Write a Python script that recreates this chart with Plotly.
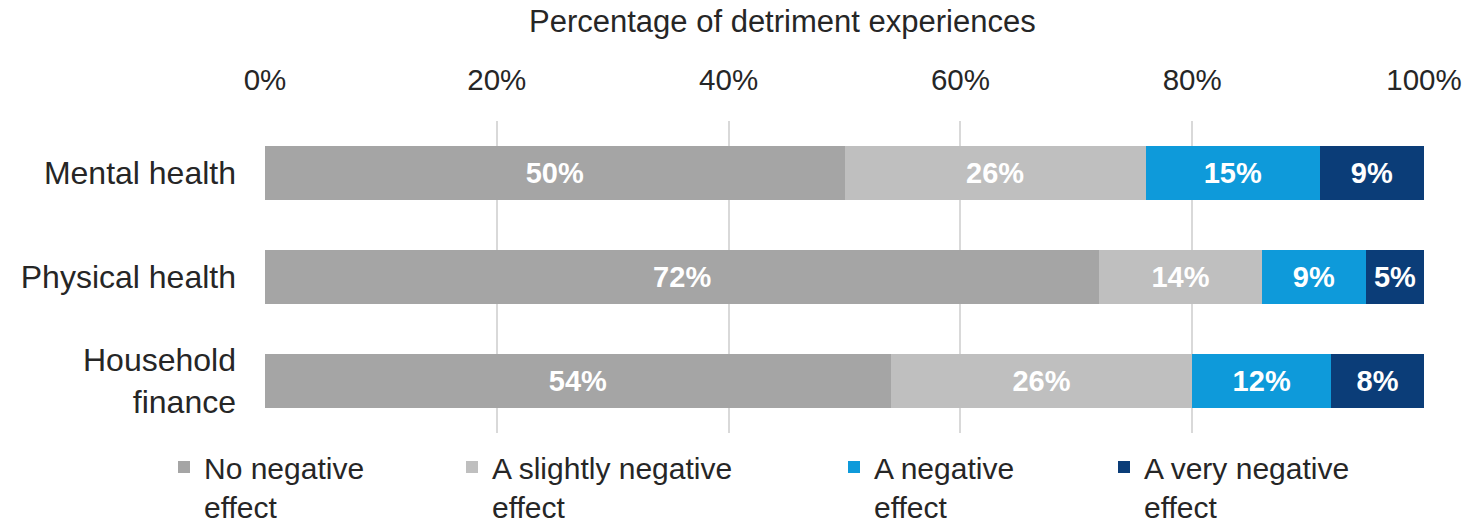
import plotly.graph_objects as go

categories = ["Mental health", "Physical health", "Household<br>finance"]
series_names = ["No negative<br>effect", "A slightly negative<br>effect", "A negative<br>effect", "A very negative<br>effect"]
no_negative = [50, 72, 54]
slightly_negative = [26, 14, 26]
negative = [15, 9, 12]
very_negative = [9, 5, 8]
colors = ["#A5A5A5", "#BFBFBF", "#0E9ADA", "#0B3D78"]
x_ticks = [0, 20, 40, 60, 80, 100]

W, H = 1475, 524
L, R, T, B = 265, 51, 121, 91
pw, ph = W - L - R, H - T - B

def px_x(p):
    return (p - L) / pw

def px_y(p):
    return (H - B - p) / ph

FONT = "Liberation Sans, Arial, sans-serif"
values = [no_negative, slightly_negative, negative, very_negative]
legend_left_px = [164, 452, 834, 1104]
legend_ids = ["legend", "legend2", "legend3", "legend4"]

fig = go.Figure()
for i, (name, vals) in enumerate(zip(series_names, values)):
    fig.add_trace(go.Bar(
        y=categories, x=vals, orientation="h", name=name,
        marker=dict(color=colors[i], line=dict(width=0)),
        width=0.51,
        text=[f"{v}%" for v in vals], textposition="inside",
        insidetextanchor="middle", constraintext="none",
        textfont=dict(color="white", size=29, family=FONT, weight="bold"),
        hoverinfo="skip",
        legend=legend_ids[i],
    ))

layout_legends = {}
for i, lid in enumerate(legend_ids):
    layout_legends[lid] = dict(
        x=px_x(legend_left_px[i]), y=px_y(441), xanchor="left", yanchor="top",
        orientation="h", bgcolor="rgba(0,0,0,0)", valign="top",
        font=dict(size=30, family=FONT, color="#262626"),
    )

fig.update_layout(
    width=W, height=H,
    margin=dict(l=L, r=R, t=T, b=B, autoexpand=False),
    barmode="stack",
    plot_bgcolor="white", paper_bgcolor="white",
    showlegend=True,
    font=dict(family=FONT, color="#262626"),
    xaxis=dict(
        side="top", range=[0, 100], tickvals=x_ticks,
        ticktext=[f"{t}%" for t in x_ticks],
        showgrid=True, gridcolor="#D9D9D9", gridwidth=1.5,
        zeroline=False, showline=False, ticks="",
        tickfont=dict(size=29.5, family=FONT, color="#262626"),
        ticklabelstandoff=24, fixedrange=True,
    ),
    yaxis=dict(
        autorange="reversed", showgrid=False, zeroline=False, showline=False,
        ticks="", tickfont=dict(size=32, family=FONT, color="#262626"),
        ticklabelstandoff=28, fixedrange=True,
    ),
    annotations=[dict(
        text="Percentage of detriment experiences", xref="paper", yref="paper",
        x=px_x(782), y=px_y(21), xanchor="center", yanchor="middle",
        showarrow=False, font=dict(size=31, family=FONT, color="#262626"),
    )],
    **layout_legends,
)

fig.write_html("out.html")
